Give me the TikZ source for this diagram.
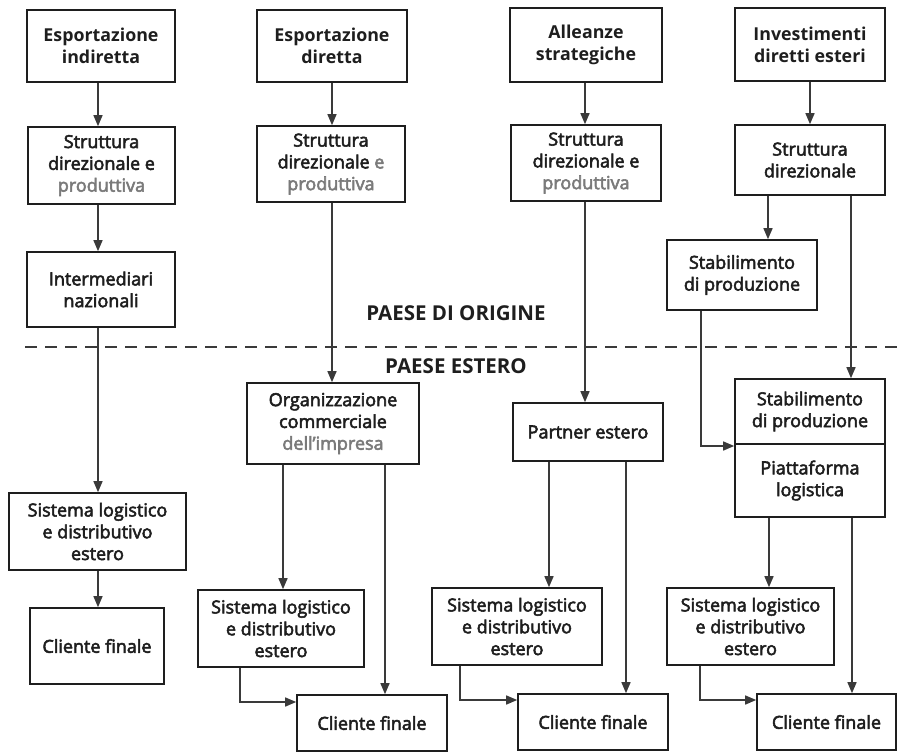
\documentclass[tikz,border=0pt]{standalone}
\usepackage{fontspec}
\setmainfont{Open Sans}
\newfontfamily\medfont{Open Sans}[FakeBold=3]
\usetikzlibrary{arrows.meta}
\definecolor{ink}{HTML}{1E1E1E}
\definecolor{wire}{HTML}{3A3A3A}
\definecolor{soft}{HTML}{7A7A7A}
\tikzset{
  box/.style={draw=ink, line width=1.6pt, align=center, inner sep=2pt,
    font=\medfont\fontsize{18}{21.8}\selectfont, text=ink},
  headbox/.style={box, font=\bfseries\fontsize{17.8}{22}\selectfont},
  flow/.style={draw=wire, line width=1.4pt, -{Triangle[length=11pt,width=9pt]}},
  border/.style={draw=wire, line width=2pt, dash pattern=on 12pt off 8pt},
  zone/.style={font=\bfseries\fontsize{20.5}{24}\selectfont, text=ink},
}
\newcommand{\faded}[1]{\textcolor{soft}{#1}}
\begin{document}
\begin{tikzpicture}[x=1pt,y=-1pt]
\useasboundingbox (0,0) rectangle (898,753);

% ---------- column 1: indirect export ----------
\node[headbox, minimum width=148pt, minimum height=72pt] (c1a) at (101,46) {Esportazione\\indiretta};
\node[box, minimum width=147pt, minimum height=77pt] (c1b) at (101.5,165.5) {Struttura\\direzionale e\\\faded{produttiva}};
\node[box, minimum width=148pt, minimum height=75pt] (c1c) at (101,289.5) {Intermediari\\nazionali};
\node[box, minimum width=177pt, minimum height=77pt] (c1d) at (97.5,531.5) {Sistema logistico\\e distributivo\\estero};
\node[box, minimum width=134pt, minimum height=76pt] (c1e) at (97,646) {Cliente finale};

% ---------- column 2: direct export ----------
\node[headbox, minimum width=150pt, minimum height=72pt] (c2a) at (332,46) {Esportazione\\diretta};
\node[box, minimum width=148pt, minimum height=76pt] (c2b) at (331,164) {Struttura\\direzionale \faded{e}\\\faded{produttiva}};
\node[box, minimum width=172pt, minimum height=81pt] (c2c) at (333,423.5) {Organizzazione\\commerciale\\\faded{dell’impresa}};
\node[box, minimum width=166pt, minimum height=77pt] (c2d) at (281,628.5) {Sistema logistico\\e distributivo\\estero};
\node[box, minimum width=150pt, minimum height=56pt] (c2e) at (372,723) {Cliente finale};

% ---------- column 3: strategic alliances ----------
\node[headbox, minimum width=152pt, minimum height=74pt] (c3a) at (586,45) {Alleanze\\strategiche};
\node[box, minimum width=150pt, minimum height=76pt] (c3b) at (586,163) {Struttura\\direzionale e\\\faded{produttiva}};
\node[box, minimum width=150pt, minimum height=58pt] (c3c) at (588,432) {Partner estero};
\node[box, minimum width=170pt, minimum height=77pt] (c3d) at (517,626.5) {Sistema logistico\\e distributivo\\estero};
\node[box, minimum width=150pt, minimum height=56pt] (c3e) at (593,722) {Cliente finale};

% ---------- column 4: foreign direct investment ----------
\node[headbox, minimum width=150pt, minimum height=73pt] (c4a) at (810,44.5) {Investimenti\\diretti esteri};
\node[box, minimum width=150pt, minimum height=70pt] (c4b) at (810,160) {Struttura\\direzionale};
\node[box, minimum width=150pt, minimum height=70pt] (c4c) at (742,275) {Stabilimento\\di produzione};
\node[box, minimum width=150pt, minimum height=65pt] (c4d) at (810,411.5) {Stabilimento\\di produzione};
\node[box, minimum width=150pt, minimum height=73pt] (c4p) at (810,480.5) {Piattaforma\\logistica};
\node[box, minimum width=167pt, minimum height=77pt] (c4e) at (750.5,626.5) {Sistema logistico\\e distributivo\\estero};
\node[box, minimum width=139pt, minimum height=56pt] (c4f) at (826.5,722) {Cliente finale};

% ---------- border between home and foreign country ----------
\coordinate (bl) at (25,347);
\coordinate (br) at (898,347);
\draw[border] (bl) -- (br);
\node[zone] (home) at (456,313) {PAESE DI ORIGINE};
\node[zone] (abroad) at (456,366) {PAESE ESTERO};

% ---------- connector tracks ----------
\coordinate (k1) at (98,0);
\coordinate (k2) at (332,0);
\coordinate (k2l) at (283,0);
\coordinate (k2r) at (385,0);
\coordinate (k2s) at (240,0);
\coordinate (k3) at (585,0);
\coordinate (k3l) at (549,0);
\coordinate (k3r) at (626,0);
\coordinate (k3s) at (460,0);
\coordinate (k4) at (810,0);
\coordinate (k4l) at (768,0);
\coordinate (k4r) at (851,0);
\coordinate (k4s) at (701,0);
\coordinate (k4m) at (769,0);
\coordinate (k4n) at (852,0);
\coordinate (k4t) at (700,0);
\coordinate (h446) at (0,446);
\coordinate (h702) at (0,702);
\coordinate (h700) at (0,700);

% column 1
\draw[flow] (c1a.south -| k1) -- (c1b.north -| k1);
\draw[flow] (c1b.south -| k1) -- (c1c.north -| k1);
\draw[flow] (c1c.south -| k1) -- (c1d.north -| k1);
\draw[flow] (c1d.south -| k1) -- (c1e.north -| k1);

% column 2
\draw[flow] (c2a.south -| k2) -- (c2b.north -| k2);
\draw[flow] (c2b.south -| k2) -- (c2c.north -| k2);
\draw[flow] (c2c.south -| k2l) -- (c2d.north -| k2l);
\draw[flow] (c2c.south -| k2r) -- (c2e.north -| k2r);
\draw[flow] (c2d.south -| k2s) |- (c2e.west |- h702);

% column 3
\draw[flow] (c3a.south -| k3) -- (c3b.north -| k3);
\draw[flow] (c3b.south -| k3) -- (c3c.north -| k3);
\draw[flow] (c3c.south -| k3l) -- (c3d.north -| k3l);
\draw[flow] (c3c.south -| k3r) -- (c3e.north -| k3r);
\draw[flow] (c3d.south -| k3s) |- (c3e.west |- h700);

% column 4
\draw[flow] (c4a.south -| k4) -- (c4b.north -| k4);
\draw[flow] (c4b.south -| k4l) -- (c4c.north -| k4l);
\draw[flow] (c4b.south -| k4r) -- (c4d.north -| k4r);
\draw[flow] (c4c.south -| k4s) |- (c4d.west |- h446);
\draw[flow] (c4p.south -| k4m) -- (c4e.north -| k4m);
\draw[flow] (c4p.south -| k4n) -- (c4f.north -| k4n);
\draw[flow] (c4e.south -| k4t) |- (c4f.west |- h700);
\end{tikzpicture}
\end{document}
